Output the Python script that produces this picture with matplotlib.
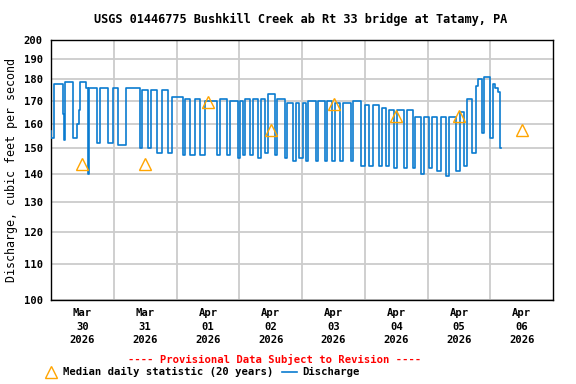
import numpy as np
import matplotlib
matplotlib.use("Agg")
import matplotlib.pyplot as plt
from matplotlib.lines import Line2D
from matplotlib.ticker import FixedLocator, NullLocator, NullFormatter

plt.rcParams['font.family'] = 'DejaVu Sans Mono'
plt.rcParams['font.weight'] = 'bold'

title = "USGS 01446775 Bushkill Creek ab Rt 33 bridge at Tatamy, PA"

# discharge, hours after Mar 30 00:00 -> cfs (step changes)
q_hours = [0.0, 0.2, 1.1, 4.6, 5.0, 5.3, 8.4, 9.9, 10.7, 11.0, 13.3, 14.1, 14.5,
           17.5, 18.7, 21.7, 23.6, 25.5, 28.6, 33.9, 34.7, 37.0, 38.1, 40.4,
           42.3, 44.6, 46.1, 50.3, 51.4, 53.3, 54.9, 56.8, 59.0, 63.6, 64.8,
           67.4, 68.6, 71.6, 72.4, 73.5, 74.3, 76.2, 77.3, 79.2, 80.4, 81.9,
           83.0, 85.7, 86.5, 89.5, 90.3, 92.6, 93.7, 94.9, 96.4, 97.5, 98.3,
           101.3, 102.1, 104.8, 105.5, 107.4, 108.6, 110.5, 111.6, 114.7, 115.4,
           118.5, 120.0, 121.5, 123.0, 125.3, 126.5, 128.0, 129.1, 131.0, 132.2,
           134.9, 136.0, 138.3, 139.0, 141.3, 142.5, 144.4, 145.5, 147.4, 149.0,
           150.9, 152.0, 155.0, 156.2, 157.7, 159.2, 161.1, 162.3, 163.4, 164.6,
           165.7, 168.0, 169.1, 169.9, 170.7, 171.8, 172.2]
q_cfs = [157, 154, 178, 164, 153, 179, 154, 160, 166, 179, 176, 140, 176,
         152, 176, 152, 176, 151, 176, 150, 175, 150, 175, 148,
         175, 148, 172, 147, 171, 147, 171, 147, 170, 147, 171,
         147, 170, 146, 170, 147, 171, 147, 171, 146, 171, 148,
         173, 147, 171, 146, 169, 145, 169, 146, 169, 145, 170,
         145, 170, 145, 170, 145, 169, 145, 169, 145, 170,
         143, 168, 143, 168, 143, 167, 143, 166, 142, 166,
         142, 166, 142, 163, 140, 163, 142, 163, 141, 163,
         139, 163, 141, 165, 143, 171, 148, 177, 180, 156,
         181, 154, 178, 176, 174, 150, 150]

# median daily statistic at noon of each day
med_hours = [12, 36, 60, 84, 108, 132, 156, 180]
med_cfs = [143.5, 143.5, 169.5, 157.5, 168.5, 163.5, 163.5, 157.5]

day_labels = ["Mar\n30\n2026", "Mar\n31\n2026", "Apr\n01\n2026", "Apr\n02\n2026",
              "Apr\n03\n2026", "Apr\n04\n2026", "Apr\n05\n2026", "Apr\n06\n2026"]
y_ticks = [100, 110, 120, 130, 140, 150, 160, 170, 180, 190, 200]

fig = plt.figure(figsize=(5.76, 3.84), dpi=100)
ax = fig.add_axes([0.0885, 0.219, 0.872, 0.677])

ax.plot(q_hours, q_cfs, drawstyle="steps-post", color="#0a7bd0", lw=1.2, zorder=3)
ax.plot(med_hours, med_cfs, ls="none", marker="^", ms=8, mfc="none",
        mec="#ffa500", mew=1.0, zorder=4)

ax.set_yscale("log")
ax.set_ylim(100, 200)
ax.set_xlim(0, 192)
ax.yaxis.set_major_locator(FixedLocator(y_ticks))
ax.yaxis.set_minor_locator(NullLocator())
ax.yaxis.set_minor_formatter(NullFormatter())
ax.set_yticklabels([str(v) for v in y_ticks])

ax.set_xticks(med_hours)
ax.set_xticklabels(day_labels, linespacing=1.45)
ax.set_xticks(np.arange(24, 192, 24), minor=True)
ax.tick_params(axis="both", which="both", length=0, labelsize=7.6, pad=6)
ax.grid(True, which="minor", axis="x", color="#cccccc", lw=1.3)
ax.grid(True, which="major", axis="y", color="#cccccc", lw=1.3)
ax.set_axisbelow(True)
for s in ax.spines.values():
    s.set_linewidth(1.0)

ax.set_ylabel("Discharge, cubic feet per second", fontsize=8.4, labelpad=4)
fig.text(0.522, 0.950, title, ha="center", va="center", fontsize=8.6)
fig.text(0.476, 0.065, "---- Provisional Data Subject to Revision ----",
         ha="center", va="center", fontsize=7.6, color="red")

handles = [Line2D([], [], ls="none", marker="^", ms=8, mfc="none", mec="#ffa500"),
           Line2D([], [], color="#0a7bd0", lw=1.2)]
fig.legend(handles, ["Median daily statistic (20 years)", "Discharge"],
           loc="center left", bbox_to_anchor=(0.075, 0.03), ncol=2, frameon=False,
           fontsize=7.6, handlelength=1.4, handletextpad=0.5, columnspacing=0.8,
           borderpad=0, borderaxespad=0)

fig.savefig("out.png", dpi=100)
